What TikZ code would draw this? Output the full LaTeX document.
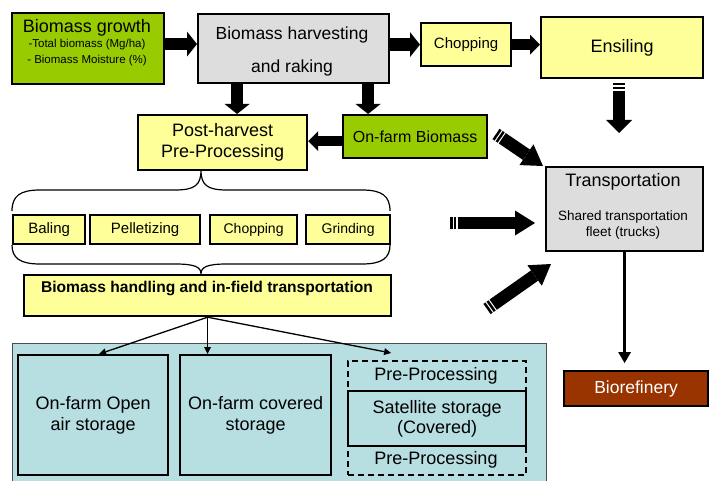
\documentclass[tikz,border=0pt]{standalone}
\usepackage{fontspec}
\setmainfont{Liberation Sans}
\usetikzlibrary{arrows.meta}
\definecolor{cgreen}{HTML}{99CC00}
\definecolor{cyellow}{HTML}{FFFF99}
\definecolor{cgray}{HTML}{DDDDDD}
\definecolor{cpanel}{HTML}{B7DEE1}
\definecolor{cbrown}{HTML}{993300}
\newcommand{\fs}[1]{\fontsize{#1}{#1}\selectfont}
\tikzset{
  box/.style={draw, line width=2.2pt, anchor=north west, inner sep=0pt, align=center},
  txt/.style={inner sep=0pt, align=center},
  blk/.style={line width=12.5pt, -{Triangle[length=10pt,width=25pt,line width=0pt]}},
  blks/.style={line width=10.5pt, -{Triangle[length=10pt,width=20pt,line width=0pt]}},
  bigblk/.style={line width=12.5pt, -{Triangle[length=20pt,width=25pt,line width=0pt]}},
  stripes/.style={dash pattern=on 2.5pt off 1.3pt on 2.5pt off 1.3pt on 400pt off 1pt},
  thinarr/.style={line width=1.3pt, -{Triangle[length=7pt,width=7pt,line width=0pt]}},
}
\begin{document}
\begin{tikzpicture}[x=1pt,y=-1pt]
\useasboundingbox (0,0) rectangle (709,481);
% panel
\fill[cpanel, draw=black!70, line width=0.8pt] (12,343) rectangle (546,490);

% top row
\node[box, fill=cgreen, minimum width=152pt, minimum height=71pt] (growth) at (11,12) {};
\node[txt] (growtht) at (87,28) {\fs{18}Biomass growth};
\node[txt] (growths1) at (87,45) {\fs{11.5}-Total biomass (Mg/ha)};
\node[txt] (growths2) at (87,61) {\fs{11.5}- Biomass Moisture (\%)};

\node[box, fill=cgray, minimum width=191pt, minimum height=69pt] (harvest) at (197,13) {};
\node[txt] (harvt1) at (292,35) {\fs{17.5}Biomass harvesting};
\node[txt] (harvt2) at (292,68) {\fs{17.5}and raking};

\node[box, fill=cyellow, minimum width=90pt, minimum height=43pt] (chop1) at (420,22) {\fs{15}Chopping};
\node[box, fill=cyellow, minimum width=162pt, minimum height=61pt] (ensil) at (540,16) {\fs{18}Ensiling};

% second row
\node[box, fill=cyellow, minimum width=169pt, minimum height=55pt, font=\fontsize{18}{21}\selectfont] (post) at (137,114)
  {Post-harvest\\Pre-Processing};
\node[box, fill=cgreen, minimum width=144pt, minimum height=43pt] (onfarm) at (342,114) {\fs{16}On-farm  Biomass};

% braces
\draw[line width=1.2pt] (12,211) .. controls (12,196) and (20,190) .. (40,190) -- (175,190)
  .. controls (195,190) and (201,185) .. (201,170)
  .. controls (201,185) and (207,190) .. (227,190) -- (362,190)
  .. controls (382,190) and (390,196) .. (390,211);
\draw[line width=1.2pt] (12,245) .. controls (12,258) and (20,264) .. (40,264) -- (175,264)
  .. controls (195,264) and (201,267) .. (201,274)
  .. controls (201,267) and (207,264) .. (227,264) -- (362,264)
  .. controls (382,264) and (390,258) .. (390,245);

% processing row
\node[box, fill=cyellow, minimum width=72pt, minimum height=29pt] (baling) at (12,214) {\fs{15}Baling};
\node[box, fill=cyellow, minimum width=110pt, minimum height=29pt] (pellet) at (89,214) {\fs{15}Pelletizing};
\node[box, fill=cyellow, minimum width=87pt, minimum height=29pt] (chop2) at (209,214) {\fs{14}Chopping};
\node[box, fill=cyellow, minimum width=84pt, minimum height=29pt] (grind) at (305,214) {\fs{14}Grinding};

% handling
\node[box, fill=cyellow, minimum width=367pt, minimum height=41pt] (handle) at (23,274) {};
\node[txt] (handlet) at (207,288) {\fs{15.6}\bfseries Biomass handling and in-field transportation};

% storage
\node[box, fill=cpanel, minimum width=150pt, minimum height=120pt, font=\fontsize{18}{21}\selectfont] (open) at (17,354)
  {On-farm Open\\air storage};
\node[box, fill=cpanel, minimum width=151pt, minimum height=120pt, font=\fontsize{18}{21}\selectfont] (covered) at (179,354)
  {On-farm covered\\storage};
\node[box, dash pattern=on 6pt off 4pt, minimum width=178pt, minimum height=114pt] (sat) at (347,360) {};
\node[box, minimum width=178pt, minimum height=55pt, font=\fontsize{18}{20}\selectfont] (satmid) at (347,390)
  {Satellite storage\\(Covered)};
\node[txt] (pre1) at (436,376) {\fs{18}Pre-Processing};
\node[txt] (pre2) at (436,460) {\fs{18}Pre-Processing};

% transportation
\node[box, fill=cgray, minimum width=157pt, minimum height=84pt] (transport) at (545,166) {};
\node[txt] (transt) at (623,182) {\fs{18}Transportation};
\node[txt, font=\fontsize{13.5}{16}\selectfont] (transs) at (623,225) {Shared transportation\\fleet (trucks)};

\node[box, fill=cbrown, minimum width=144pt, minimum height=35pt, text=white] (bioref) at (563,370) {\fs{17.5}Biorefinery};

% block arrows
\draw[blk] ([yshift=4.5pt]growth.east) -- ([yshift=4.5pt]growth.east -| harvest.west);
\draw[blk] (harvest.east |- chop1.west) -- (chop1.west);
\draw[blks] (chop1.east) -- (chop1.east -| ensil.west);
\draw[blk] ([xshift=-56.5pt]harvest.south) -- ([xshift=-56.5pt]harvest.south |- post.north);
\draw[blk] ([xshift=74.5pt]harvest.south) -- ([xshift=74.5pt]harvest.south |- onfarm.north);
\draw[blks] ([yshift=-4.5pt]onfarm.west) -- ([yshift=-4.5pt]onfarm.west -| post.east);

% striped arrows
\coordinate (e1) at (619,83);
\coordinate (e2) at (619,133);
\draw[line width=12.5pt, stripes, -{Triangle[length=13pt,width=26pt,line width=0pt]}] (e1) -- (e2);
\coordinate (h1) at (450,223);
\coordinate (h2) at (535,223);
\draw[bigblk, stripes] (h1) -- (h2);
\coordinate (d1) at (496,134);
\coordinate (d2) at (543,166);
\draw[bigblk, stripes] (d1) -- (d2);
\coordinate (u1) at (487,309);
\coordinate (u2) at (551,264);
\draw[bigblk, stripes] (u1) -- (u2);

% transport to biorefinery
\draw[line width=2.5pt, -{Triangle[length=11pt,width=13pt,line width=0pt]}, shorten >=7pt]
  (transport.south) -- (transport.south |- bioref.north);

% thin arrows
\draw[thinarr] (handle.south) -- ([xshift=6pt]open.north);
\draw[thinarr] (handle.south) -- (handle.south |- covered.north);
\draw[thinarr] (handle.south) -- ([xshift=-46pt,yshift=7pt]sat.north);
\end{tikzpicture}
\end{document}
